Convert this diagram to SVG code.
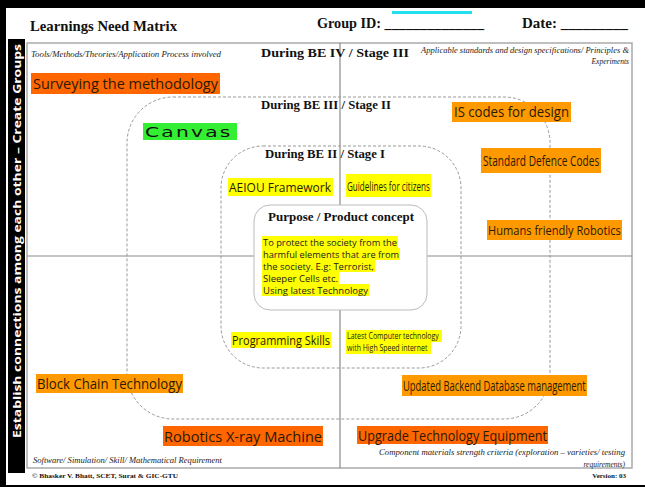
<svg xmlns="http://www.w3.org/2000/svg" width="645" height="487" viewBox="0 0 645 487">
<style>
.hdr{font-family:"Liberation Serif",serif;font-weight:bold;font-size:14px;fill:#111}
.stage{font-family:"Liberation Serif",serif;font-weight:bold;font-size:12.5px;fill:#111}
.it{font-family:"Liberation Serif",serif;font-style:italic;font-size:7.5px;fill:#222}
.foot{font-family:"Liberation Serif",serif;font-weight:bold;font-size:7px;fill:#111}
.lbl{font-family:"Open Sans",sans-serif;font-size:14px;fill:#2a1a00}
.sm{font-family:"Open Sans",sans-serif;font-size:9.5px;fill:#222}
.or{fill:#FF9900}
.rd{fill:#FF6600}
.ye{fill:#FFFF00}
.dash{fill:none;stroke:#999;stroke-width:1;stroke-dasharray:3 2}
.grid{stroke:#8a8a8a;stroke-width:1.2}
</style>
<rect x="0" y="0" width="645" height="487" fill="#000"/>
<rect x="6" y="8" width="639" height="477" fill="#fff"/>
<g id="header">
<text class="hdr" x="30" y="31" textLength="147" lengthAdjust="spacingAndGlyphs">Learnings Need Matrix</text>
<text class="hdr" x="317" y="28" textLength="167" lengthAdjust="spacingAndGlyphs">Group ID: ______________</text>
<text class="hdr" x="522" y="28" textLength="106" lengthAdjust="spacingAndGlyphs">Date: _________</text>
<rect x="392" y="11" width="80" height="3" fill="#22e0f0"/>
</g>
<g id="side-bar">
<rect x="8" y="39" width="17" height="434" fill="#000"/>
<text transform="rotate(-90)" x="-438" y="21" font-family="'Open Sans',sans-serif" font-weight="bold" font-size="10.5" fill="#fff" textLength="394" lengthAdjust="spacingAndGlyphs">Establish connections among each other – Create Groups</text>
</g>
<g id="frame">
<rect x="27" y="43" width="605" height="425" fill="none" stroke="#aaa" stroke-width="1.5"/>
</g>
<g id="connectors">
<line class="grid" x1="340" y1="43" x2="340" y2="468"/>
<line class="grid" x1="27" y1="256" x2="632" y2="256"/>
<rect class="dash" x="127" y="97" width="423" height="322" rx="46"/>
<rect class="dash" x="221" y="146" width="240" height="222" rx="42"/>
</g>
<g id="quadrant-labels">
<text class="it" x="31" y="57" textLength="190" lengthAdjust="spacingAndGlyphs">Tools/Methods/Theories/Application Process involved</text>
<text class="it" x="629" y="53" text-anchor="end" textLength="208" lengthAdjust="spacingAndGlyphs">Applicable standards and design specifications/ Principles &amp;</text>
<text class="it" x="629" y="64" text-anchor="end">Experiments</text>
<text class="it" x="33" y="463" textLength="189" lengthAdjust="spacingAndGlyphs">Software/ Simulation/ Skill/ Mathematical Requirement</text>
<text class="it" x="625" y="455" text-anchor="end" textLength="246" lengthAdjust="spacingAndGlyphs">Component materials strength  criteria  (exploration – varieties/ testing</text>
<text class="it" x="625" y="467" text-anchor="end">requirements)</text>
<text class="foot" x="32" y="478" textLength="146" lengthAdjust="spacingAndGlyphs">© Bhasker V. Bhatt, SCET, Surat &amp; GIC-GTU</text>
<text class="foot" x="626" y="478" text-anchor="end">Version: 03</text>
</g>
<g id="stage-3">
<text class="stage" x="261" y="57" textLength="148" lengthAdjust="spacingAndGlyphs">During BE IV / Stage III</text>
</g>
<g id="stage-2">
<text class="stage" x="261" y="109" textLength="130" lengthAdjust="spacingAndGlyphs">During BE III / Stage II</text>
</g>
<g id="stage-1">
<text class="stage" x="265" y="158" textLength="120" lengthAdjust="spacingAndGlyphs">During BE II / Stage I</text>
</g>
<g id="purpose">
<rect x="254" y="205" width="173" height="105" rx="16" fill="#fff" stroke="#bbb" stroke-width="1"/>
<text class="stage" x="341" y="221" text-anchor="middle" style="font-size:12px" textLength="146" lengthAdjust="spacingAndGlyphs">Purpose / Product concept</text>
<rect class="ye" x="262" y="236" width="136" height="12"/>
<rect class="ye" x="262" y="248" width="138" height="12"/>
<rect class="ye" x="262" y="260" width="113" height="12"/>
<rect class="ye" x="262" y="272" width="77" height="12"/>
<rect class="ye" x="262" y="284" width="107" height="12"/>
<text class="sm" x="263" y="246" textLength="134" lengthAdjust="spacingAndGlyphs">To protect the society from the</text>
<text class="sm" x="263" y="258" textLength="136" lengthAdjust="spacingAndGlyphs">harmful elements that are from</text>
<text class="sm" x="263" y="270" textLength="111" lengthAdjust="spacingAndGlyphs">the society. E.g: Terrorist,</text>
<text class="sm" x="263" y="282" textLength="75" lengthAdjust="spacingAndGlyphs">Sleeper Cells etc.</text>
<text class="sm" x="263" y="294" textLength="105" lengthAdjust="spacingAndGlyphs">Using latest Technology</text>
</g>
<g id="surveying">
<rect class="rd" x="31" y="73" width="189" height="21"/>
<text class="lbl" x="33" y="89" style="font-size:15px" textLength="185" lengthAdjust="spacingAndGlyphs">Surveying the methodology</text>
</g>
<g id="canvas">
<rect x="143" y="123" width="94" height="17" fill="#33EE33"/>
<text transform="translate(145,137) scale(1.45,1)" x="0" y="0" font-family="'DejaVu Sans',sans-serif" font-size="14" letter-spacing="1.5" fill="#111">Canvas</text>
</g>
<g id="is-codes">
<rect class="or" x="452" y="102" width="119" height="20"/>
<text class="lbl" x="454" y="117" style="font-size:15px" textLength="115" lengthAdjust="spacingAndGlyphs">IS codes for design</text>
</g>
<g id="defence-codes">
<rect class="or" x="481" y="148" width="120" height="25"/>
<text class="lbl" transform="translate(483,166) scale(0.7,1)" x="0" y="0" style="font-size:14.5px" textLength="166" lengthAdjust="spacingAndGlyphs">Standard Defence Codes</text>
</g>
<g id="aeiou">
<rect class="ye" x="228" y="178" width="105" height="18"/>
<text class="lbl" x="229" y="192" style="font-size:12.5px" textLength="102" lengthAdjust="spacingAndGlyphs">AEIOU Framework</text>
</g>
<g id="guidelines">
<rect class="ye" x="346" y="174" width="85" height="23"/>
<text class="lbl" transform="translate(347,191) scale(0.72,1)" x="0" y="0" style="font-size:12.5px" textLength="115" lengthAdjust="spacingAndGlyphs">Guidelines for citizens</text>
</g>
<g id="humans-robotics">
<rect class="or" x="487" y="220" width="135" height="20"/>
<text class="lbl" transform="translate(488,235) scale(0.82,1)" x="0" y="0" style="font-size:13.5px" textLength="162" lengthAdjust="spacingAndGlyphs">Humans friendly Robotics</text>
</g>
<g id="programming">
<rect class="ye" x="231" y="332" width="100" height="16"/>
<text class="lbl" x="232" y="345" style="font-size:12px" textLength="98" lengthAdjust="spacingAndGlyphs">Programming Skills</text>
</g>
<g id="latest-computer">
<rect class="ye" x="346" y="330" width="96" height="12"/>
<rect class="ye" x="346" y="342" width="85" height="12"/>
<text class="sm" transform="translate(347,0) scale(0.82,1)" style="font-size:8.5px"><tspan x="0" y="339.5">Latest Computer technology</tspan><tspan x="0" y="351.5">with High Speed internet</tspan></text>
</g>
<g id="block-chain">
<rect class="or" x="36" y="374" width="147" height="19"/>
<text class="lbl" x="37" y="389" textLength="145" lengthAdjust="spacingAndGlyphs">Block Chain Technology</text>
</g>
<g id="backend-db">
<rect class="or" x="402" y="375" width="185" height="21"/>
<text class="lbl" transform="translate(403,391) scale(0.7,1)" x="0" y="0" style="font-size:14.5px" textLength="261" lengthAdjust="spacingAndGlyphs">Updated Backend Database management</text>
</g>
<g id="xray">
<rect class="rd" x="163" y="426" width="160" height="20"/>
<text class="lbl" x="164" y="442" style="font-size:15px" textLength="158" lengthAdjust="spacingAndGlyphs">Robotics X-ray Machine</text>
</g>
<g id="upgrade-equipment">
<rect class="rd" x="357" y="426" width="191" height="18"/>
<text class="lbl" x="358" y="441" textLength="189" lengthAdjust="spacingAndGlyphs">Upgrade Technology Equipment</text>
</g>
</svg>
